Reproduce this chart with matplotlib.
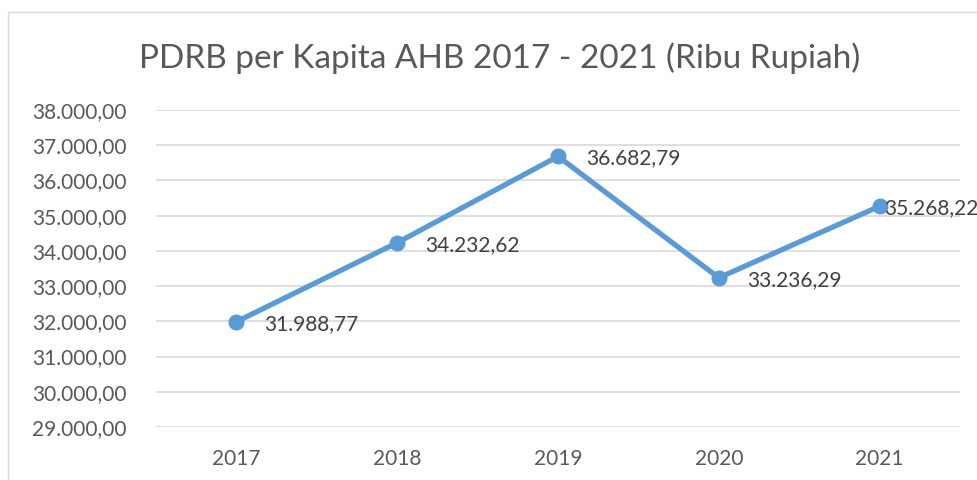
import matplotlib
matplotlib.use("Agg")
import matplotlib.pyplot as plt
from matplotlib.patches import Rectangle
from matplotlib.ticker import FuncFormatter

years = ["2017", "2018", "2019", "2020", "2021"]
values = [31988.77, 34232.62, 36682.79, 33236.29, 35268.22]
labels = ["31.988,77", "34.232,62", "36.682,79", "33.236,29", "35.268,22"]
yticks = [29000, 30000, 31000, 32000, 33000, 34000, 35000, 36000, 37000, 38000]
title = "PDRB per Kapita AHB 2017 - 2021 (Ribu Rupiah)"

plt.rcParams['font.family'] = ['Lato', 'DejaVu Sans']
W, H = 977, 480
fig = plt.figure(figsize=(W / 100, H / 100), dpi=100)
fig.patch.set_facecolor("white")

# chart frame (extends beyond image at right/bottom)
fig.patches.append(Rectangle((8 / W, -0.1), 1.2, 1 - 12 / H + 0.1, transform=fig.transFigure,
                             fill=False, edgecolor="#D9D9D9", linewidth=1.0))

ax = fig.add_axes([156 / W, 1 - 427 / H, (960 - 156) / W, (427 - 110) / H])
x = list(range(len(years)))
ax.plot(x, values, color="#5B9BD5", linewidth=3.8, marker="o", markersize=10.5,
        solid_capstyle="round", zorder=3, clip_on=False)

for i, (v, lab) in enumerate(zip(values, labels)):
    dx = 28 if i < len(values) - 1 else 5
    ax.annotate(lab, (i, v), xytext=(dx, -2), textcoords="offset pixels",
                ha="left", va="center", fontsize=15, color="#404040", zorder=4,
                annotation_clip=False)

ax.set_xlim(-0.5, 4.5)
ax.set_ylim(29000, 38000)
ax.set_yticks(yticks)
ax.yaxis.set_major_formatter(FuncFormatter(lambda v, p: f"{int(v):,}".replace(",", ".") + ",00"))
ax.set_xticks(x)
ax.set_xticklabels(years)
ax.grid(axis="y", color="#D9D9D9", linewidth=1.2)
ax.set_axisbelow(True)
for s in ax.spines.values():
    s.set_visible(False)
ax.tick_params(axis="both", length=0, labelsize=15, labelcolor="#595959")
ax.tick_params(axis="y", pad=21)
ax.tick_params(axis="x", pad=16)

fig.text(500 / W, 1 - 58 / H, title, ha="center", va="center", fontsize=24, color="#595959")

fig.savefig("out.png", dpi=100)
